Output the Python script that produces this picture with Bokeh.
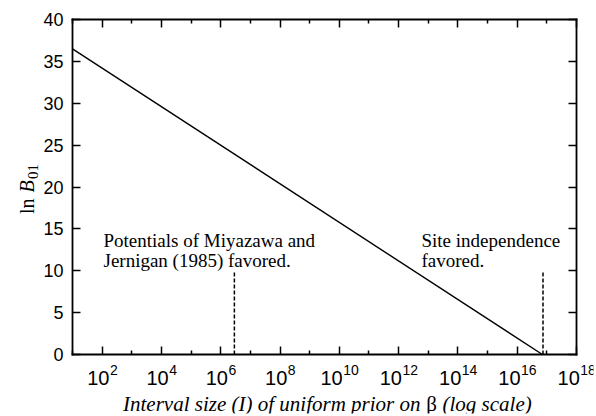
import math
from bokeh.plotting import figure
from bokeh.models import FixedTicker, LogAxis, LinearAxis, Label
from bokeh.embed import file_html
from bokeh.resources import INLINE

# ---------------- data ----------------
interval_size = [1e1, 10 ** 16.85]          # I (log scale)
ln_b01 = [36.5, 0.0]                        # ln B01
threshold_x = [10 ** 6.46, 10 ** 16.87]     # dashed markers
threshold_bottom = [0.0, 0.0]
threshold_top = [10.0, 10.0]
x_major_exp = [2, 4, 6, 8, 10, 12, 14, 16, 18]
x_minor_exp = [1, 3, 5, 7, 9, 11, 13, 15, 17]
y_ticks = [0, 5, 10, 15, 20, 25, 30, 35, 40]
ann_left = ["Potentials of Miyazawa and", "Jernigan (1985) favored."]
ann_right = ["Site independence", "favored."]
x_title_parts = ["Interval size (I) of uniform prior on", "β", "(log scale)"]

X_LO, X_HI = 1e1, 1e18      # plotted interval
Y_LO, Y_HI = 0, 40

SANS = "Liberation Sans"
SERIF = "Liberation Serif"

# Frame spans (almost) the whole canvas so that all texts can be drawn
# as labels; the plot box itself is drawn by the four axes.
W, H, MB = 596, 416, 3
PX_DEC = 504 / 17.0          # pixels per decade
PX_UNIT = 335 / 40.0         # pixels per y unit
x_start = 10 ** (1 - (72 - MB) / PX_DEC)
x_end = 10 ** (18 + (W - MB - 576) / PX_DEC)
y_start = -(H - MB - 354) / PX_UNIT
y_end = 40 + (19 - MB) / PX_UNIT

p = figure(width=W, height=H, x_axis_type="log",
           x_range=(x_start, x_end), y_range=(y_start, y_end),
           output_backend="svg", toolbar_location=None,
           min_border_left=MB, min_border_right=MB,
           min_border_top=MB, min_border_bottom=MB)
p.grid.visible = False
p.outline_line_color = None
p.background_fill_color = "white"
p.border_fill_color = "white"

xt = FixedTicker(ticks=[10.0 ** e for e in x_major_exp],
                 minor_ticks=[10.0 ** e for e in x_minor_exp])
yt = FixedTicker(ticks=y_ticks)


def style(ax, loc, bounds, minor=True):
    ax.fixed_location = loc
    ax.bounds = bounds
    ax.axis_line_color = "black"
    ax.axis_line_width = 1.8
    ax.axis_line_cap = "square"
    ax.major_tick_in = 8
    ax.major_tick_out = 0
    ax.major_tick_line_width = 1.5
    ax.major_tick_line_color = "black"
    if minor:
        ax.minor_tick_in = 4
        ax.minor_tick_out = 0
        ax.minor_tick_line_width = 1.5
        ax.minor_tick_line_color = "black"
    else:
        ax.minor_tick_line_color = None
    ax.major_label_text_font_size = "1px"
    ax.major_label_text_alpha = 0
    ax.major_label_standoff = 0


p.xaxis.ticker = xt
style(p.xaxis[0], Y_LO, (X_LO, X_HI))
p.yaxis.ticker = yt
style(p.yaxis[0], X_LO, (Y_LO, Y_HI), minor=False)

top = LogAxis(ticker=xt)
style(top, Y_HI, (X_LO, X_HI))
p.add_layout(top, "above")
right = LinearAxis(ticker=yt)
style(right, X_HI, (Y_LO, Y_HI), minor=False)
p.add_layout(right, "right")

# ---------------- marks ----------------
p.line(interval_size, ln_b01, line_color="black", line_width=1.4)
p.segment(x0=threshold_x, y0=threshold_bottom, x1=threshold_x, y1=threshold_top,
          line_color="black", line_width=1.5, line_dash="4 2")

# ---------------- y tick labels ----------------
for v in y_ticks:
    p.add_layout(Label(x=X_LO, y=v, text=str(v), x_offset=-9,
                       text_align="right", text_baseline="middle",
                       text_font=SANS, text_font_size="18px", text_color="black"))

# ---------------- x tick labels 10^n ----------------
BASE_FS, EXP_FS = 20, 14
base_w = 2 * 0.556 * BASE_FS
for e in x_major_exp:
    exp_w = len(str(e)) * 0.556 * EXP_FS
    Wl = base_w + exp_w
    p.add_layout(Label(x=10.0 ** e, y=Y_LO, text="10", x_offset=-Wl / 2, y_offset=-23,
                       text_align="left", text_baseline="alphabetic",
                       text_font=SANS, text_font_size=f"{BASE_FS}px", text_color="black"))
    p.add_layout(Label(x=10.0 ** e, y=Y_LO, text=str(e), x_offset=-Wl / 2 + base_w + 0.5,
                       y_offset=-15, text_align="left", text_baseline="alphabetic",
                       text_font=SANS, text_font_size=f"{EXP_FS}px", text_color="black"))

# ---------------- x title ----------------
beta_x = 10 ** (1 + (431 - 72) / PX_DEC)
common = dict(y=Y_LO, y_offset=-49, text_baseline="alphabetic",
              text_font=SERIF, text_font_size="21px", text_color="black")
p.add_layout(Label(x=beta_x, x_offset=-11, text=x_title_parts[0], text_align="right",
                   text_font_style="italic", **common))
p.add_layout(Label(x=beta_x, text=x_title_parts[1], text_align="center",
                   text_font_style="normal", **common))
p.add_layout(Label(x=beta_x, x_offset=11, text=x_title_parts[2], text_align="left",
                   text_font_style="italic", **common))

# ---------------- y title: ln B_01 ----------------
ylab = [("ln", "normal", 20, 0, -27),
        ("B", "italic", 20, 0, -5.5),
        ("01", "normal", 15, 6, 8)]
for txt, st, fs, down, along in ylab:
    p.add_layout(Label(x=X_LO, y=20, text=txt, x_offset=-46 + down, y_offset=along,
                       angle=math.pi / 2, text_align="left", text_baseline="alphabetic",
                       text_font=SERIF, text_font_style=st,
                       text_font_size=f"{fs}px", text_color="black"))

# ---------------- annotations ----------------
ann_y = [13.65, 11.22]
for i, line in enumerate(ann_left):
    p.add_layout(Label(x=10 ** (1 + (103 - 72) / PX_DEC), y=ann_y[i], text=line,
                       text_align="left", text_baseline="alphabetic",
                       text_font=SERIF, text_font_size="19px", text_color="black"))
for i, line in enumerate(ann_right):
    p.add_layout(Label(x=10 ** (1 + (421 - 72) / PX_DEC), y=ann_y[i], text=line,
                       text_align="left", text_baseline="alphabetic",
                       text_font=SERIF, text_font_size="19px", text_color="black"))

open("out.html", "w").write(file_html(p, INLINE))
